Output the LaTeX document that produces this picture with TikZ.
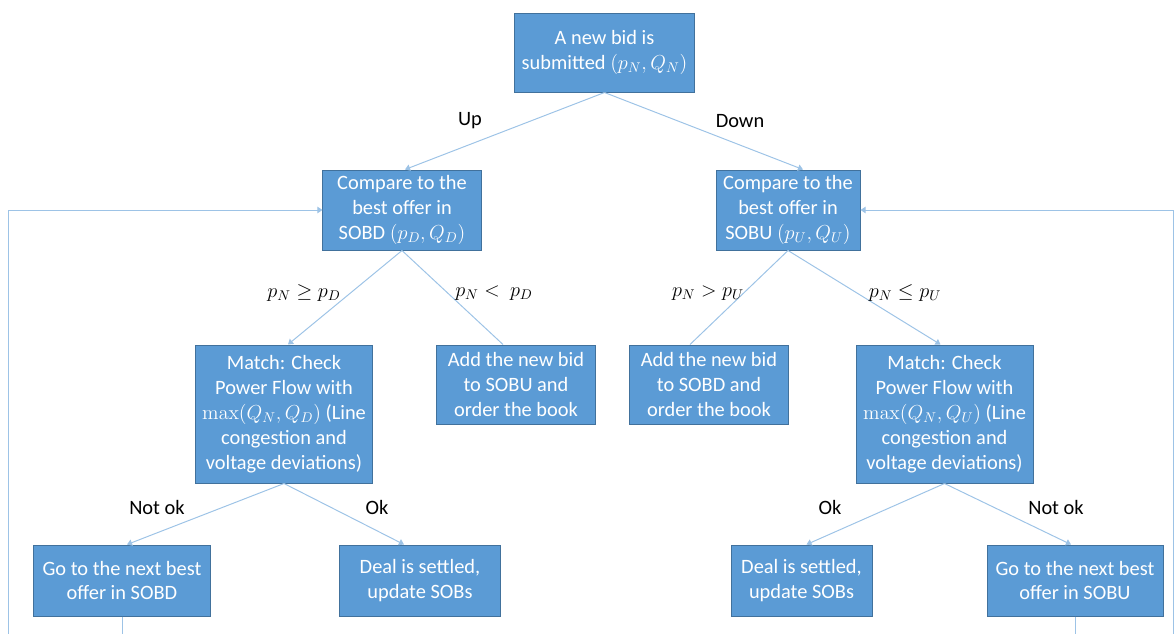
\documentclass[tikz,border=0pt]{standalone}
\usepackage[no-math]{fontspec}
\setmainfont{Carlito}
\usepackage{amsmath}
\usetikzlibrary{arrows.meta}
\definecolor{cBox}  {RGB}{ 91,155,213}
\definecolor{cBord} {RGB}{ 65,113,156}
\definecolor{cLine} {RGB}{157,195,230}

\begin{document}
\begin{tikzpicture}[
  x=0.025cm, y=-0.025cm,
  %% ── blue process block ────────────────────────────────────────────────
  B/.style={
    draw=cBord, fill=cBox, line width=0.7pt,
    align=center, text=white, inner sep=2pt,
    font=\fontsize{14.5}{17.7}\selectfont
  },
  %% ── connector with arrow ──────────────────────────────────────────────
  A/.style={-{Triangle[length=3.6pt,width=4.6pt]}, line width=0.7pt, draw=cLine},
  %% ── connector without arrow ───────────────────────────────────────────
  P/.style={line width=0.7pt, draw=cLine},
  %% ── branch label ──────────────────────────────────────────────────────
  L/.style={font=\fontsize{14.5}{17.7}\selectfont, text=black, inner sep=1pt},
]
\useasboundingbox (0,0) rectangle (1174,633);

%% ═══════════════════════════════════════════════════════════════════════
%%  BLOCKS
%% ═══════════════════════════════════════════════════════════════════════

\node[B, minimum width=4.475cm, minimum height=1.975cm] (bid) at (604.5,52.5)
  {A new bid is\\submitted $(p_N,Q_N)$};

\node[B, minimum width=3.95cm, minimum height=2cm] (cmpD) at (402,210)
  {Compare to the\\best offer in\\SOBD $(p_D,Q_D)$};
\node[B, minimum width=3.6cm, minimum height=2cm] (cmpU) at (788,210)
  {Compare to the\\best offer in\\SOBU $(p_U,Q_U)$};

\node[B, minimum width=4.4cm, minimum height=3.45cm] (matchD) at (284,414)
  {Match: Check\\Power Flow with\\$\max(Q_N,Q_D)$ (Line\\congestion and\\voltage deviations)};
\node[B, minimum width=3.95cm, minimum height=1.975cm] (addU) at (516,384.5)
  {Add the new bid\\to SOBU and\\order the book};
\node[B, minimum width=3.95cm, minimum height=1.975cm] (addD) at (709,384.5)
  {Add the new bid\\to SOBD and\\order the book};
\node[B, minimum width=4.425cm, minimum height=3.45cm] (matchU) at (944.5,414)
  {Match: Check\\Power Flow with\\$\max(Q_N,Q_U)$ (Line\\congestion and\\voltage deviations)};

\node[B, minimum width=4.4cm, minimum height=1.775cm] (nextD) at (122,580.5)
  {Go to the next best\\offer in SOBD};
\node[B, minimum width=4cm, minimum height=1.775cm] (dealD) at (420,580.5)
  {Deal is settled,\\update SOBs};
\node[B, minimum width=3.525cm, minimum height=1.775cm] (dealU) at (801.5,580.5)
  {Deal is settled,\\update SOBs};
\node[B, minimum width=4.4cm, minimum height=1.775cm] (nextU) at (1075,580.5)
  {Go to the next best\\offer in SOBU};

%% ═══════════════════════════════════════════════════════════════════════
%%  CONNECTORS
%% ═══════════════════════════════════════════════════════════════════════

\draw[A] (bid.south) -- ([xshift=0.075cm]cmpD.north);
\draw[A] (bid.south) -- ([xshift=0.375cm]cmpU.north);

\draw[A] (cmpD.south) -- ([xshift=0.1cm]matchD.north);
\draw[P] (cmpD.south) -- ([xshift=-0.325cm]addU.north);
\draw[P] (cmpU.south) -- ([xshift=-0.475cm]addD.north);
\draw[A] (cmpU.south) -- ([xshift=-0.1cm]matchU.north);

\draw[A] (matchD.south) -- ([xshift=0.125cm]nextD.north);
\draw[A] (matchD.south) -- ([xshift=-0.4cm]dealD.north);
\draw[A] (matchU.south) -- ([xshift=0.125cm]dealU.north);
\draw[A] (matchU.south) -- ([xshift=-0.1cm]nextU.north);

%% loops back to the order books (cut at the page edge)
\begin{scope}
  \clip (0,0) rectangle (1174,633);
  \coordinate (loopD) at (8,660);
  \coordinate (loopU) at (1173,660);
  \draw[A] (nextD.south) |- (loopD) |- (cmpD.west);
  \draw[A] (nextU.south) |- (loopU) |- (cmpU.east);
\end{scope}

%% ═══════════════════════════════════════════════════════════════════════
%%  LABELS
%% ═══════════════════════════════════════════════════════════════════════

\node[L] (lUp)   at (470,121) {Up};
\node[L] (lDown) at (740,121) {Down};

\node[L] (lGeD) at (304,293) {$p_N \geq p_D$};
\node[L] (lLtD) at (494,293) {$p_N <\ p_D$};
\node[L] (lGtU) at (708,293) {$p_N > p_U$};
\node[L] (lLeU) at (905,293) {$p_N \leq p_U$};

\node[L] (lNokD) at (157,507) {Not ok};
\node[L] (lOkD)  at (377,507) {Ok};
\node[L] (lOkU)  at (830,507) {Ok};
\node[L] (lNokU) at (1056,507) {Not ok};

\end{tikzpicture}
\end{document}
